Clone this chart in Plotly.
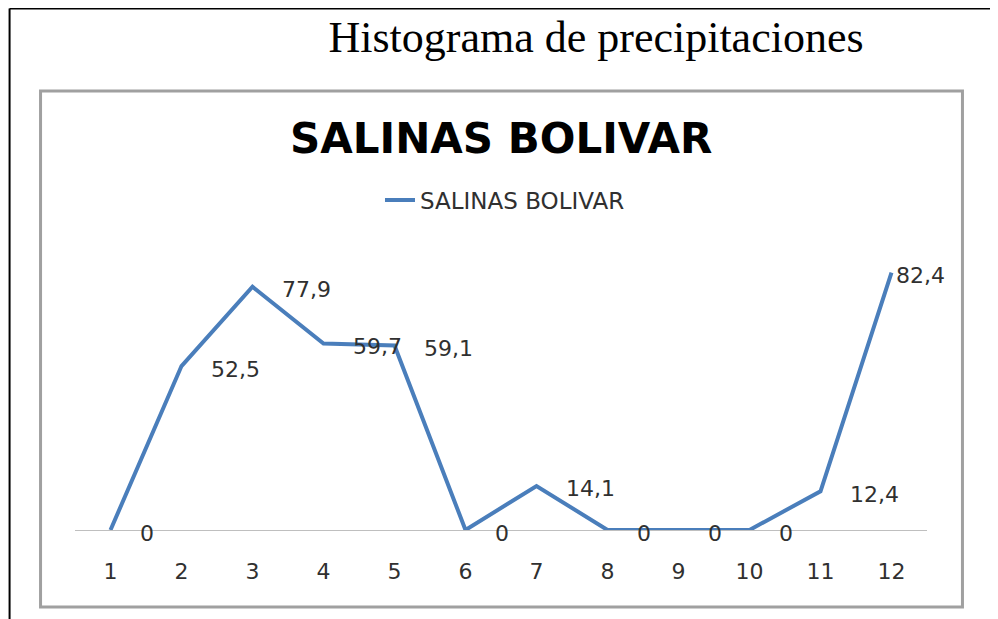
import plotly.graph_objects as go

months = [1, 2, 3, 4, 5, 6, 7, 8, 9, 10, 11, 12]
precip = [0, 52.5, 77.9, 59.7, 59.1, 0, 14.1, 0, 0, 0, 12.4, 82.4]
labels = ["0", "52,5", "77,9", "59,7", "59,1", "0", "14,1", "0", "0", "0", "12,4", "82,4"]
series_name = "SALINAS BOLIVAR"
page_title = "Histograma de precipitaciones"

OFF = 8  # page body margin of the html output
W, H = 998 - OFF, 619 - OFF
# plot area in page (reference) pixels
L, R, T, B = 74.5, 927.5, 249, 530


def px(xp):
    return (xp - L) / (R - L)


def py(yp):
    return (B - yp) / (B - T)


fig = go.Figure()
fig.add_trace(go.Scatter(
    x=months, y=precip, mode="lines", name=series_name,
    line=dict(color="#4A7EBB", width=4),
))

annotations = []
for i, (m, v, lab) in enumerate(zip(months, precip, labels)):
    shift = 27 if i < len(months) - 1 else 2
    annotations.append(dict(
        x=m, y=v, xref="x", yref="y", text=lab, showarrow=False,
        xanchor="left", yanchor="middle", xshift=shift, yshift=-3,
        font=dict(family="DejaVu Sans", size=22, color="#303030"),
    ))

annotations.append(dict(
    x=px(501), y=py(138), xref="paper", yref="paper", text="<b>" + series_name + "</b>",
    showarrow=False, xanchor="center", yanchor="middle",
    font=dict(family="DejaVu Sans", size=42, color="#000000"),
))

shapes = [
    # outer frame
    dict(type="line", xref="paper", yref="paper", x0=px(9), x1=px(1010), y0=py(8.5), y1=py(8.5),
         line=dict(color="#000000", width=2)),
    dict(type="line", xref="paper", yref="paper", x0=px(9), x1=px(9), y0=py(8.5), y1=py(640),
         line=dict(color="#000000", width=2)),
    # chart box
    dict(type="rect", xref="paper", yref="paper", x0=px(40), x1=px(963), y0=py(91), y1=py(607),
         line=dict(color="#A0A0A0", width=3), layer="below"),
]

fig.update_layout(
    width=W, height=H,
    margin=dict(l=L - OFF, r=998 - R, t=T - OFF, b=619 - B, pad=0),
    paper_bgcolor="#FFFFFF", plot_bgcolor="#FFFFFF",
    title=dict(text=page_title, x=(596 - OFF) / W, y=1 - (37 - OFF) / H, xref="container", yref="container",
               xanchor="center", yanchor="middle",
               font=dict(family="Liberation Serif", size=44, color="#000000")),
    showlegend=True,
    legend=dict(x=px(505), y=py(200), xanchor="center", yanchor="middle",
                font=dict(family="DejaVu Sans", size=23, color="#303030"),
                bgcolor="rgba(0,0,0,0)"),
    xaxis=dict(range=[0.5, 12.5], tickmode="array", tickvals=months, ticktext=[str(m) for m in months],
               showgrid=False, zeroline=False, showline=False, ticks="",
               ticklabelstandoff=26,
               tickfont=dict(family="DejaVu Sans", size=22, color="#303030"), fixedrange=True),
    yaxis=dict(range=[0, 90], showgrid=False, zeroline=True, zerolinecolor="#BFBFBF", zerolinewidth=1,
               showline=False, showticklabels=False, ticks="", fixedrange=True),
    annotations=annotations,
    shapes=shapes,
)

fig.write_html("out.html")
